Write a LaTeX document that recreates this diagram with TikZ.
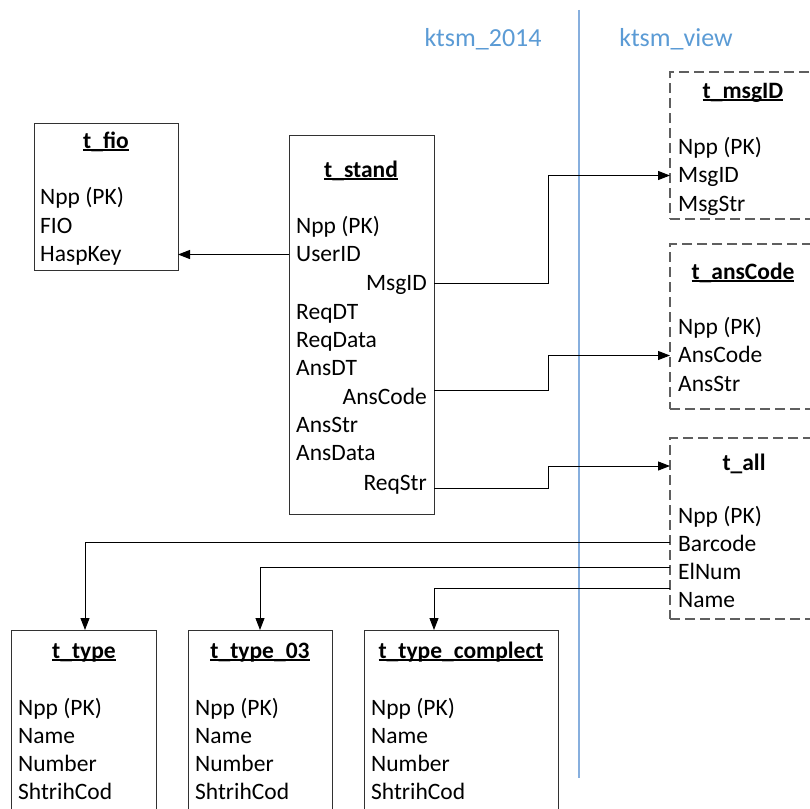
\documentclass[tikz,border=0pt]{standalone}
\usepackage{fontspec}
\setmainfont{Carlito}
\usetikzlibrary{arrows.meta,calc}
\definecolor{hdrc}{RGB}{91,155,213}
\definecolor{divl}{RGB}{135,175,222}
\definecolor{bord}{RGB}{50,50,50}
\definecolor{dbord}{RGB}{95,95,95}
\newcommand\myul[1]{\setbox0\hbox{#1}\rlap{\rule[-2.6pt]{\wd0}{1.3pt}}\box0}
\begin{document}
\begin{tikzpicture}[x=1pt,y=-1pt,
 tbl/.style={draw=bord,line width=1pt,anchor=north west,inner sep=0pt,outer sep=0pt},
 vtbl/.style={tbl,draw=dbord,line width=1.2pt,dash pattern=on 10pt off 5pt},
 fld/.style={anchor=base west,inner sep=0pt,text height=16pt,text depth=3pt,font=\fontsize{23.5}{28}\selectfont},
 fldr/.style={fld,anchor=base east},
 ttl/.style={anchor=base,inner sep=0pt,font=\fontsize{23.5}{28}\selectfont\bfseries},
 hdr/.style={text=hdrc,font=\fontsize{26}{30}\selectfont,inner sep=0pt,anchor=base},
 con/.style={line width=1pt,draw=black},
 arr/.style={con,-{Triangle[length=12pt,width=9pt]}}]
\useasboundingbox (0,0) rectangle (810,808);
\clip (0,0) rectangle (810,808);

% headers and divider
\node[hdr] (h1) at (483,47) {ktsm\_2014};
\node[hdr] (h2) at (676,47) {ktsm\_view};
\draw[divl,line width=1.1pt] (579,10) -- (579,778);

% t_fio
\node[tbl,minimum width=144pt,minimum height=147pt] (fio) at (34,123) {};
\node[ttl] (fioT) at (106,148) {\myul{t\_fio}};
\node[fld] (f1) at (40,204) {Npp (PK)};
\node[fld] (f2) at (40,233) {FIO};
\node[fld] (f3) at (40,261) {HaspKey};

% t_stand
\node[tbl,minimum width=145pt,minimum height=379pt] (stand) at (289,135) {};
\node[ttl] (standT) at (361,177) {\myul{t\_stand}};
\node[fld] (s1) at (296,233) {Npp (PK)};
\node[fld] (sUser) at (296,261) {UserID};
\node[fldr] (sMsg) at (427,290) {MsgID};
\node[fld] (s4) at (296,319) {ReqDT};
\node[fld] (s5) at (296,347) {ReqData};
\node[fld] (s6) at (296,375) {AnsDT};
\node[fldr] (sAns) at (427,404) {AnsCode};
\node[fld] (s8) at (296,432) {AnsStr};
\node[fld] (s9) at (296,460) {AnsData};
\node[fldr] (sReq) at (427,490) {ReqStr};

% t_msgID
\node[vtbl,minimum width=146pt,minimum height=147pt] (msg) at (670,72) {};
\node[ttl] (msgT) at (743,98) {\myul{t\_msgID}};
\node[fld] (m1) at (678,154) {Npp (PK)};
\node[fld] (mMsg) at (678,182) {MsgID};
\node[fld] (m3) at (678,211) {MsgStr};

% t_ansCode
\node[vtbl,minimum width=146pt,minimum height=165pt] (ans) at (670,244) {};
\node[ttl] (ansT) at (743,279) {\myul{t\_ansCode}};
\node[fld] (a1) at (678,334) {Npp (PK)};
\node[fld] (aAns) at (678,362) {AnsCode};
\node[fld] (a3) at (678,391) {AnsStr};

% t_all
\node[vtbl,minimum width=146pt,minimum height=181pt] (all) at (670,438) {};
\node[ttl] (allT) at (744,470) {t\_all};
\node[fld] (l1) at (678,523) {Npp (PK)};
\node[fld] (lBar) at (678,551) {Barcode};
\node[fld] (lEl) at (678,579) {ElNum};
\node[fld] (lName) at (678,607) {Name};

% bottom tables
\node[tbl,minimum width=145pt,minimum height=200pt] (ty) at (11,630) {};
\node[ttl] (tyT) at (84,658) {\myul{t\_type}};
\node[fld] (y1) at (18,715) {Npp (PK)};
\node[fld] (y2) at (18,743) {Name};
\node[fld] (y3) at (18,771) {Number};
\node[fld] (y4) at (18,799) {ShtrihCod};

\node[tbl,minimum width=144pt,minimum height=200pt] (ty3) at (188,630) {};
\node[ttl] (ty3T) at (260,658) {\myul{t\_type\_03}};
\node[fld] (z1) at (195,715) {Npp (PK)};
\node[fld] (z2) at (195,743) {Name};
\node[fld] (z3) at (195,771) {Number};
\node[fld] (z4) at (195,799) {ShtrihCod};

\node[tbl,minimum width=194pt,minimum height=200pt] (cmp) at (364,630) {};
\node[ttl] (cmpT) at (461,658) {\myul{t\_type\_complect}};
\node[fld] (c1) at (371,715) {Npp (PK)};
\node[fld] (c2) at (371,743) {Name};
\node[fld] (c3) at (371,771) {Number};
\node[fld] (c4) at (371,799) {ShtrihCod};

% connectors
\draw[arr] (sUser.west -| stand.west) -- (sUser.west -| fio.east);
\draw[arr] (sMsg.east -| stand.east) -- ++(114,0) |- (mMsg.west -| msg.west);
\draw[arr] ($(sAns.east -| stand.east)+(0,-7)$) -- ++(114,0) |- (aAns.west -| ans.west);
\draw[arr] ($(sReq.east -| stand.east)+(0,5)$) -- ++(114,0) |- ($(allT.base -| all.west)+(0,-4)$);
\draw[arr] ($(lBar.west -| all.west)+(0,-2)$) -| ($(ty.north west)+(74,0)$);
\draw[arr] ($(lEl.west -| all.west)+(0,-5)$) -| (ty3.north);
\draw[arr] ($(lName.west -| all.west)+(0,-12)$) -| ($(cmp.north west)+(70,0)$);
\end{tikzpicture}
\end{document}
